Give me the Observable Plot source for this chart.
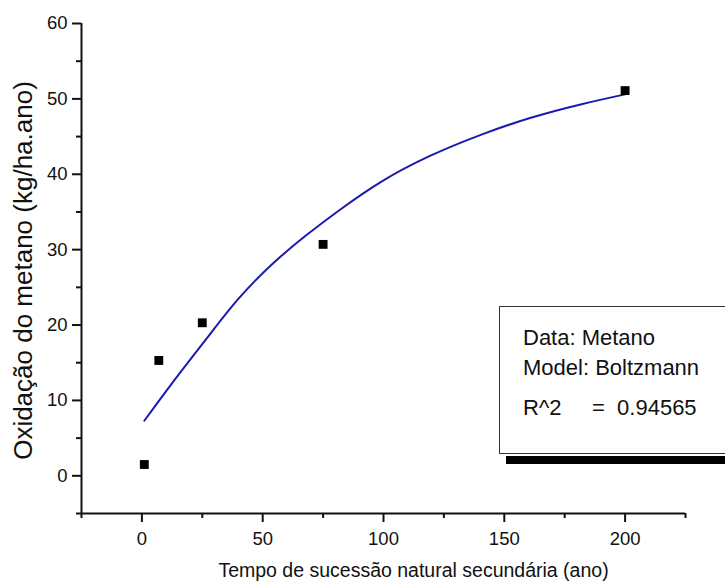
<!DOCTYPE html>
<html><head><meta charset="utf-8">
<script src="https://cdn.jsdelivr.net/npm/d3@7"></script>
<script src="https://cdn.jsdelivr.net/npm/@observablehq/plot@0.6"></script>
<style>
body{margin:0;background:#fff;}
#wrap{position:relative;width:725px;height:587px;overflow:hidden;font-family:"Liberation Sans",Arial,sans-serif;}
</style></head>
<body><div id="wrap"></div>
<script>
const pointX = [1, 7, 25, 75, 200];
const pointY = [1.5, 15.3, 20.3, 30.7, 51.1];
const fitX = [1, 13, 27, 40, 54, 68, 82, 99, 119, 140, 161, 182, 200];
const fitY = [7.3, 12.5, 18.3, 23.5, 28.1, 31.9, 35.3, 39.0, 42.4, 45.2, 47.5, 49.3, 50.6];
const xTicks = [0, 50, 100, 150, 200];
const xMinor = [-25, 25, 75, 125, 175, 225];
const yTicks = [0, 10, 20, 30, 40, 50, 60];
const yMinor = [-5, 5, 15, 25, 35, 45, 55];
const xLabel = "Tempo de sucessão natural secundária (ano)";
const yLabel = "Oxidação do metano (kg/ha.ano)";
const legendLines = ["Data: Metano", "Model: Boltzmann", "R^2     =  0.94565"];

const points = pointX.map((x, i) => ({x, y: pointY[i]}));
const fit = fitX.map((x, i) => ({x, y: fitY[i]}));

const chart = Plot.plot({
  width: 725, height: 587,
  marginLeft: 81, marginRight: 40, marginTop: 23, marginBottom: 74,
  style: {fontFamily: '"Liberation Sans", Arial, sans-serif', color: "#111", background: "#fff"},
  x: {domain: [-25, 225]},
  y: {domain: [-5, 60]},
  marks: [
    Plot.axisX({ticks: xTicks, tickSize: 9, tickPadding: 9, fontSize: 18.5, label: null, strokeWidth: 2, stroke: "#111"}),
    Plot.axisX({ticks: xMinor, tickSize: 5, text: null, label: null, strokeWidth: 2, stroke: "#111"}),
    Plot.axisY({ticks: yTicks, tickSize: 9, tickPadding: 5, fontSize: 18.5, label: null, strokeWidth: 2, stroke: "#111"}),
    Plot.axisY({ticks: yMinor, tickSize: 5, text: null, label: null, strokeWidth: 2, stroke: "#111"}),
    Plot.ruleX([-25], {stroke: "#111", strokeWidth: 2}),
    Plot.ruleY([-5], {stroke: "#111", strokeWidth: 2}),
    Plot.line(fit, {x: "x", y: "y", curve: "natural", stroke: "#1a1ab0", strokeWidth: 2}),
    Plot.dot(points, {x: "x", y: "y", symbol: "square", fill: "#000", r: 5}),
    Plot.text([xLabel], {frameAnchor: "bottom", dx: 30, dy: 63, fontSize: 19.5, fill: "#111"}),
    Plot.text([yLabel], {frameAnchor: "left", textAnchor: "middle", rotate: -90, dx: -57.5, dy: 2, fontSize: 26, fill: "#111"})
  ]
});
document.getElementById("wrap").appendChild(chart);

// Fit-result annotation box (legend)
const svg = d3.select(chart);
const g = svg.append("g").attr("text-anchor", "start");
g.append("rect").attr("x", 506).attr("y", 456).attr("width", 260).attr("height", 8).attr("fill", "#000");
g.append("rect").attr("x", 499.5).attr("y", 306.5).attr("width", 260).attr("height", 147).attr("fill", "#fff").attr("stroke", "#333").attr("stroke-width", 1);
const baselines = [345, 375, 415];
legendLines.forEach((t, i) => {
  g.append("text").attr("x", 523).attr("y", baselines[i])
    .style("font-size", "22px").style("text-anchor", "start").style("white-space", "pre")
    .attr("fill", "#111").text(t);
});
</script>
</body></html>
